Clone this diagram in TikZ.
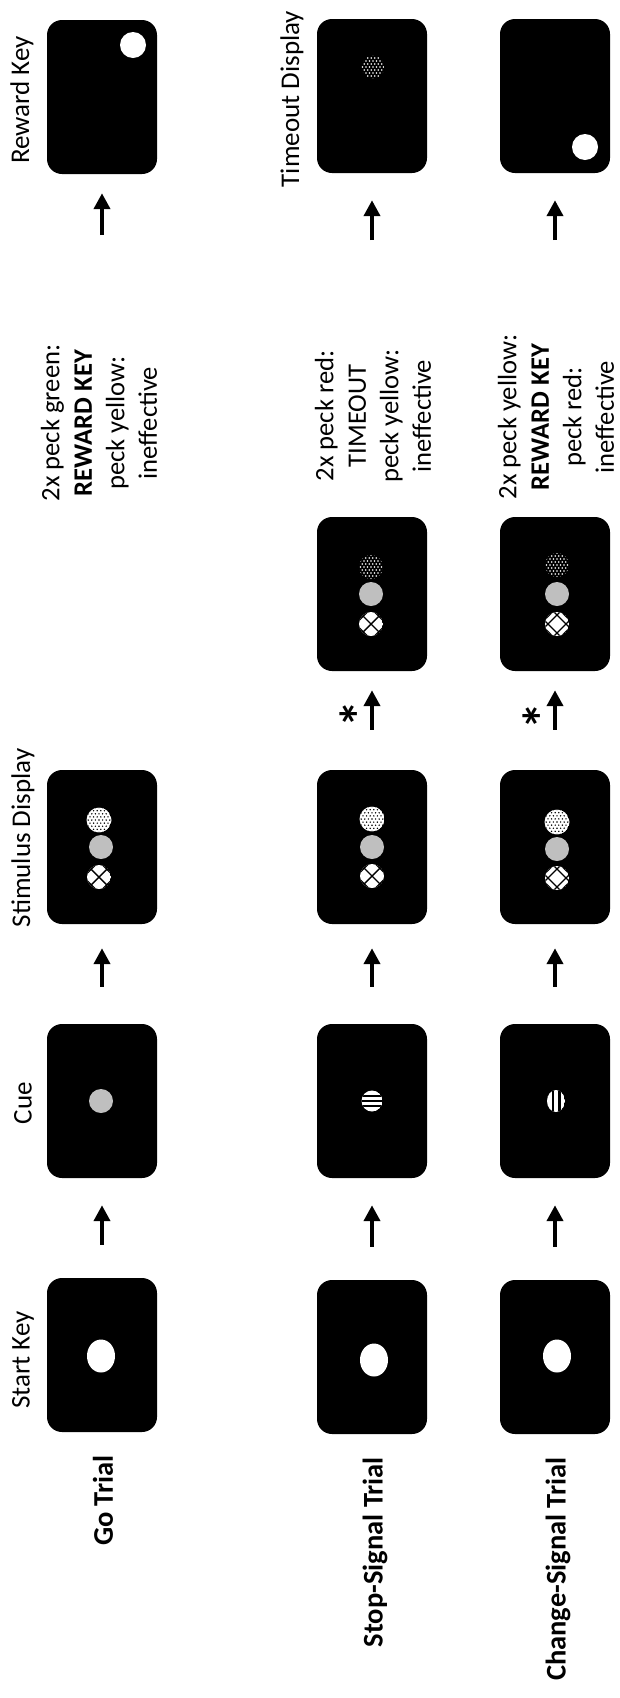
\documentclass[tikz,border=0pt]{standalone}
\usepackage{fontspec}
\setmainfont{Carlito}
\usetikzlibrary{arrows.meta}

% one unit = 1pt, y grows downwards
\tikzset{
  screen/.style={fill=black, rounded corners=15pt, minimum width=110pt,
    minimum height=154pt, inner sep=0pt},
  flow/.style={line width=4.5pt, -{Triangle[width=16pt,length=16pt]}},
  panel label/.style={rotate=90, font=\fontsize{27}{32}\selectfont, inner sep=0pt},
  trial label/.style={rotate=90, font=\bfseries\fontsize{28.5}{34}\selectfont,
    inner sep=0pt, anchor=east},
  rule text/.style={rotate=90, align=center, font=\fontsize{26.6}{32.5}\selectfont,
    inner sep=0pt},
  star mark/.style={rotate=90, font=\bfseries\fontsize{54}{54}\selectfont, inner sep=0pt},
}

% lit key: white disc with black holes on a hex grid
\newcommand\litkey[1]{%
  \begin{scope}[shift={#1}]
    \clip (0,0) circle (12.5pt);
    \fill[white] (0,0) circle (12.5pt);
    \foreach \j in {-4,...,4}{%
      \pgfmathsetmacro\off{abs(mod(\j,2))*1.8}%
      \foreach \i in {-4,...,4}{\fill[black] ({\i*3.6+\off},{\j*3.1}) circle (0.8pt);}}
  \end{scope}}

% dimmed key: white dots on black
\newcommand\dimkey[2]{%
  \begin{scope}[shift={#1}]
    \clip (0,0) circle (#2pt);
    \foreach \j in {-4,...,4}{%
      \pgfmathsetmacro\off{abs(mod(\j,2))*1.75}%
      \foreach \i in {-4,...,4}{\fill[white] ({\i*3.5+\off},{\j*3.0}) circle (0.9pt);}}
  \end{scope}}

% plain grey key
\newcommand\greykey[1]{\fill[keygrey] #1 circle (12pt);}

% white key crossed by an X, hatched at the rim
\newcommand\crosskey[1]{%
  \begin{scope}[shift={#1}]
    \clip (0,0) circle (12pt);
    \fill[white] (0,0) circle (12pt);
    \foreach \d in {-7.8,0,7.8}{%
      \draw[line width=1.4pt] ({\d-15},{-\d-15}) -- ({\d+15},{-\d+15});
      \draw[line width=1.4pt] ({\d-15},{\d+15}) -- ({\d+15},{\d-15});}
  \end{scope}}

% white key hatched so that a diamond sits in the centre
\newcommand\diamondkey[1]{%
  \begin{scope}[shift={#1}]
    \clip (0,0) circle (12pt);
    \fill[white] (0,0) circle (12pt);
    \foreach \d in {-8.2,-4.5,4.5,8.2}{%
      \draw[line width=1.2pt] ({\d-15},{-\d-15}) -- ({\d+15},{-\d+15});
      \draw[line width=1.2pt] ({\d-15},{\d+15}) -- ({\d+15},{\d-15});}
  \end{scope}}

% striped cue keys
\newcommand\hstripekey[1]{%
  \begin{scope}[shift={#1}]
    \clip (0,0) circle (10.5pt);
    \fill[white] (0,0) circle (10.5pt);
    \foreach \d in {-5,0,5}{\fill[black] (-12,{\d-1.1}) rectangle (12,{\d+1.1});}
  \end{scope}}
\newcommand\vstripekey[1]{%
  \begin{scope}[shift={#1}]
    \clip (0,0) ellipse (9pt and 11pt);
    \fill[white] (0,0) ellipse (9pt and 11pt);
    \foreach \d in {-3.2,3.2}{\fill[black] ({\d-1.3},-12) rectangle ({\d+1.3},12);}
  \end{scope}}

\definecolor{keygrey}{RGB}{191,191,191}

\begin{document}
\begin{tikzpicture}[x=1pt, y=-1pt]
\fill[white] (0,0) rectangle (619,1698);
\useasboundingbox (0,0) rectangle (619,1698);

% ---------- screens ----------
% Go trial
\node[screen] (gA) at (102,97)   {};
\node[screen] (gC) at (102,847)  {};
\node[screen] (gD) at (102,1101) {};
\node[screen] (gE) at (102,1355) {};
% Stop-signal trial
\node[screen] (sA) at (372,96)   {};
\node[screen] (sB) at (372,594)  {};
\node[screen] (sC) at (372,847)  {};
\node[screen] (sD) at (372,1101) {};
\node[screen] (sE) at (372,1357) {};
% Change-signal trial
\node[screen] (cA) at (555,96)   {};
\node[screen] (cB) at (555,594)  {};
\node[screen] (cC) at (555,847)  {};
\node[screen] (cD) at (555,1101) {};
\node[screen] (cE) at (555,1357) {};

% ---------- keys ----------
% start keys
\fill[white] (101,1356) ellipse (14pt and 16.5pt);
\fill[white] (374,1360) ellipse (14pt and 16.5pt);
\fill[white] (557,1356) ellipse (14pt and 16.5pt);
% cues
\greykey{(101,1101)}
\hstripekey{(372,1101)}
\vstripekey{(556,1101)}
% stimulus displays
\litkey{(99,820)}   \greykey{(101,847)} \crosskey{(99,877)}
\litkey{(372,819)}  \greykey{(372,847)} \crosskey{(372,876)}
\litkey{(557,822)}  \greykey{(557,849)} \diamondkey{(557,878)}
% displays after the signal
\dimkey{(371,567)}{12} \greykey{(371,594)} \crosskey{(371,624)}
\dimkey{(557,565)}{12} \greykey{(557,594)} \diamondkey{(557,624)}
% outcome displays
\fill[white] (133,45) circle (13pt);
\dimkey{(373,67)}{11.5}
\fill[white] (585,147) circle (13pt);

% ---------- arrows ----------
\coordinate (gTail) at (102,235);
\coordinate (sTail) at (372,240);
\coordinate (cTail) at (555,240);
\draw[flow, shorten >=19pt] (gTail) -- (gA.south);
\draw[flow, shorten >=27pt] (sTail) -- (sA.south);
\draw[flow, shorten >=27pt] (cTail) -- (cA.south);
\foreach \t in {g,s,c}{
  \draw[flow, shorten <=37pt, shorten >=24pt] (\t D.north) -- (\t C.south);
  \draw[flow, shorten <=33pt, shorten >=27pt] (\t E.north) -- (\t D.south);
}
\draw[flow, shorten <=40pt, shorten >=19pt] (sC.north) -- (sB.south);
\draw[flow, shorten <=40pt, shorten >=19pt] (cC.north) -- (cB.south);
\node[star mark] (sStar) at (359,714) {*};
\node[star mark] (cStar) at (542,716) {*};

% ---------- texts ----------
\node[panel label] (lReward)  at (22,100)  {Reward Key};
\node[panel label] (lTimeout) at (292,99)  {Timeout Display};
\node[panel label] (lStim)    at (23,838)  {Stimulus Display};
\node[panel label] (lCue)     at (23,1103) {Cue};
\node[panel label] (lStart)   at (23,1360) {Start Key};

\node[rule text] (gRule) at (99,423)
  {2x peck green:\\\textbf{REWARD KEY}\\peck yellow:\\ineffective};
\node[rule text] (sRule) at (373,416)
  {2x peck red:\\TIMEOUT\\peck yellow:\\ineffective};
\node[rule text] (cRule) at (556,417)
  {2x peck yellow:\\\textbf{REWARD KEY}\\peck red:\\ineffective};

\node[trial label] (tGo)     at (103,1455) {Go Trial};
\node[trial label] (tStop)   at (375,1457) {Stop-Signal Trial};
\node[trial label] (tChange) at (558,1457) {Change-Signal Trial};
\end{tikzpicture}
\end{document}
